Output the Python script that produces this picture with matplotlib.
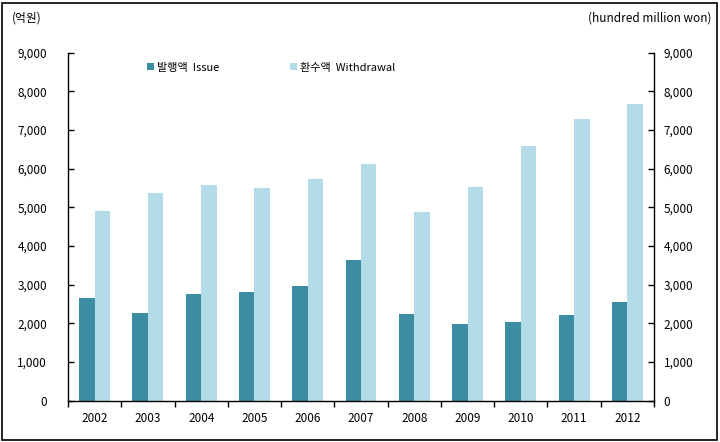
import matplotlib
matplotlib.use("Agg")
import matplotlib.pyplot as plt
import numpy as np
from matplotlib.patches import Rectangle
from matplotlib.ticker import FuncFormatter, MultipleLocator
from matplotlib.transforms import ScaledTranslation

plt.rcParams['font.family'] = ['Noto Sans CJK KR', 'DejaVu Sans']

years = ['2002', '2003', '2004', '2005', '2006', '2007', '2008', '2009', '2010', '2011', '2012']
issue = [2650, 2260, 2750, 2800, 2960, 3630, 2235, 1975, 2030, 2210, 2545]
withdrawal = [4895, 5365, 5570, 5490, 5720, 6110, 4870, 5515, 6575, 7270, 7660]
label_issue = '발행액  Issue'
label_withdrawal = '환수액  Withdrawal'
unit_left = '(억원)'
unit_right = '(hundred million won)'

c_dark = '#3C8CA2'
c_light = '#B4DCE8'

fig = plt.figure(figsize=(7.2, 4.42), dpi=100)
ax = fig.add_axes([68/720, 1 - 400.5/442, (654-68)/720, (400.5-52.5)/442])

x = np.arange(len(years))
w = 0.29
b1 = ax.bar(x - w/2, issue, width=w, color=c_dark, label=label_issue)
b2 = ax.bar(x + w/2, withdrawal, width=w, color=c_light, label=label_withdrawal)

ax.set_xlim(-0.5, len(years) - 0.5)
ax.set_ylim(0, 9000)
ax.yaxis.set_major_locator(MultipleLocator(1000))
fmt = FuncFormatter(lambda v, p: f'{int(v):,}')
ax.yaxis.set_major_formatter(fmt)

ax.set_xticks(np.arange(-0.5, len(years) + 0.5, 1))
ax.set_xticklabels([])
ax.set_xticks(x, minor=True)
ax.set_xticklabels(years, minor=True)
ax.tick_params(axis='x', which='major', direction='out', length=4, width=1)
ax.tick_params(axis='x', which='minor', length=0, pad=8, labelsize=8.5)

ax.spines['top'].set_visible(False)
for s in ['left', 'right', 'bottom']:
    ax.spines[s].set_linewidth(1)
ax.tick_params(axis='y', direction='in', length=4, width=1, labelsize=8.5, pad=15,
               left=True, right=True, labelleft=True, labelright=True)

leg = ax.legend(handles=[b1, b2], loc='upper left', bbox_to_anchor=(69/586, 1.0),
                ncol=2, frameon=False, fontsize=8, handlelength=0.6, handleheight=0.6,
                handletextpad=0.3, columnspacing=6.4, borderaxespad=0.5)

fig.text(12/720, 1 - 18/442, unit_left, fontsize=8.5, ha='left', va='center')
fig.text(712/720, 1 - 18/442, unit_right, fontsize=8.5, ha='right', va='center')

fig.patches.append(Rectangle((2/720, 2/442), 715/720, 437/442, transform=fig.transFigure,
                             fill=False, edgecolor='black', linewidth=1.2))

fig.canvas.draw()
for t in ax.yaxis.get_major_ticks():
    t.label2.set_transform(t.label2.get_transform() + ScaledTranslation(-8/72, 0, fig.dpi_scale_trans))

fig.savefig('out.png', dpi=100)
